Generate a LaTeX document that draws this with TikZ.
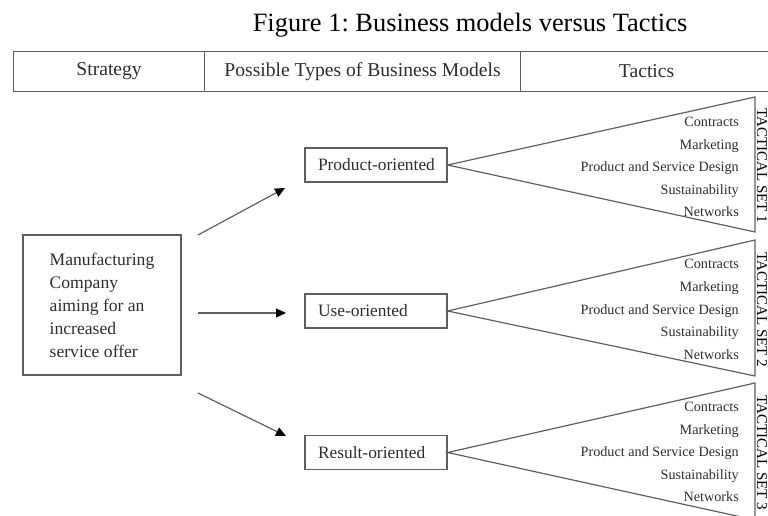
\documentclass[tikz,border=0pt]{standalone}
\usepackage{fontspec}
\setmainfont{Liberation Serif}
\usetikzlibrary{arrows.meta}
\frenchspacing
\definecolor{linegray}{RGB}{95,95,95}
\definecolor{textgray}{RGB}{45,45,45}
\tikzset{
  cell/.style={draw=linegray, line width=1.2pt, minimum height=40pt, inner sep=0pt,
    text=textgray, font=\fontsize{19.6}{22}\selectfont, anchor=north west},
  stratbox/.style={draw=linegray, line width=1.2pt, minimum width=158pt, minimum height=140pt,
    align=left, inner sep=0pt, text=textgray, font=\fontsize{17.6}{23}\selectfont},
  modelbox/.style={draw=linegray, line width=1.2pt, minimum height=34pt, inner ysep=0pt,
    inner xsep=13pt, text=textgray, font=\fontsize{17.4}{20}\selectfont},
  tacticlist/.style={align=right, inner sep=0pt, text=textgray, anchor=east,
    font=\fontsize{14.2}{22.6}\selectfont},
  setlabel/.style={rotate=-90, inner sep=0pt, text=black, font=\fontsize{15}{18}\selectfont},
  fan/.style={draw=linegray, line width=1.2pt},
  flow/.style={draw=linegray, line width=1.2pt, -{Triangle[length=10pt,width=9pt,color=black]}},
}
\begin{document}
\begin{tikzpicture}[x=1pt,y=-1pt]
\useasboundingbox (0,0) rectangle (768,516);

% title
\node[anchor=base, inner sep=0pt, font=\fontsize{26.4}{30}\selectfont] (title) at (470,32)
  {Figure 1: Business models versus Tactics};

% header table
\node[cell, minimum width=191pt] (h1) at (13,51) {Strategy};
\node[cell, minimum width=316pt] (h2) at (204,51) {Possible Types of Business Models};
\node[cell, minimum width=252pt] (h3) at (520,51) {Tactics};

% strategy box
\node[stratbox] (mc) at (102,305)
  {Manufacturing\\Company\\aiming for an\\increased\\service offer};

% business model boxes
\node[modelbox] (po) at (376,165) {\makebox[116pt][l]{Product-oriented}};
\node[modelbox] (uo) at (376,311) {\makebox[116pt][l]{Use-oriented}};
\node[modelbox] (ro) at (376,452.5) {\makebox[116pt][l]{Result-oriented}};

% arrows
\coordinate (a1s) at (198,235); \coordinate (a1e) at (285,188);
\coordinate (a2s) at (198,313); \coordinate (a2e) at (286,313);
\coordinate (a3s) at (198,393); \coordinate (a3e) at (286,436);
\draw[flow] (a1s) -- (a1e);
\draw[flow] (a2s) -- (a2e);
\draw[flow] (a3s) -- (a3e);

% fans
\coordinate (t1a) at (755,97);  \coordinate (t1b) at (755,232);
\coordinate (t2a) at (755,240); \coordinate (t2b) at (755,376);
\coordinate (t3a) at (755,383); \coordinate (t3b) at (755,520);
\draw[fan] (po.east) -- (t1a) -- (t1b) -- cycle;
\draw[fan] (uo.east) -- (t2a) -- (t2b) -- cycle;
\draw[fan] (ro.east) -- (t3a) -- (t3b) -- cycle;

% tactics lists
\node[tacticlist] (l1) at (739,167)
  {Contracts\\Marketing\\Product and Service Design\\Sustainability\\Networks};
\node[tacticlist] (l2) at (739,309.5)
  {Contracts\\Marketing\\Product and Service Design\\Sustainability\\Networks};
\node[tacticlist] (l3) at (739,452)
  {Contracts\\Marketing\\Product and Service Design\\Sustainability\\Networks};

% set labels
\node[setlabel] (s1) at (762,166) {TACTICAL SET 1};
\node[setlabel] (s2) at (762,310) {TACTICAL SET 2};
\node[setlabel] (s3) at (762,453) {TACTICAL SET 3};
\end{tikzpicture}
\end{document}
